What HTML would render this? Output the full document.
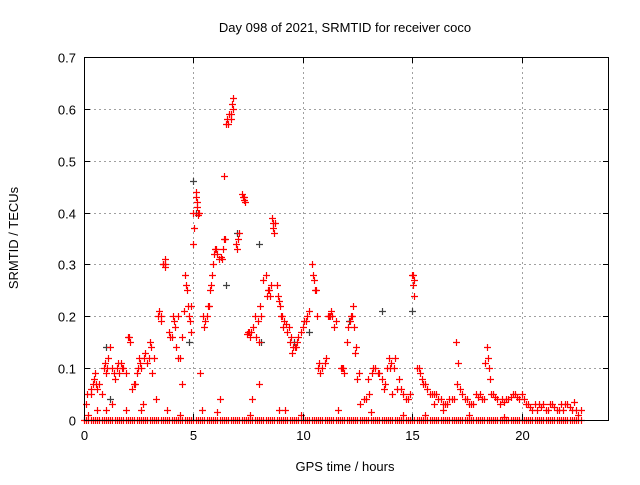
<!DOCTYPE html>
<html><head><meta charset="utf-8"><style>
body{margin:0;background:#fff;}
svg text{font-family:"Liberation Sans","DejaVu Sans",sans-serif;font-size:13px;fill:#000;}
</style></head><body>
<svg id="chart" width="640" height="480" viewBox="0 0 640 480" xmlns="http://www.w3.org/2000/svg">
<rect width="640" height="480" fill="#fff"/>
<text x="345" y="32" text-anchor="middle" font-size="14">Day 098 of 2021, SRMTID for receiver coco</text>
<text x="345" y="471" text-anchor="middle" font-size="14">GPS time / hours</text>
<text transform="translate(18,238) rotate(-90)" text-anchor="middle" font-size="14">SRMTID / TECUs</text>
<g id="grid"></g>
<g id="marks"></g>
<rect x="84.5" y="57.5" width="524" height="363" fill="none" stroke="#000" stroke-width="1"/>
<g id="ticks"></g>
</svg>
<script>
const xTicks=[0,5,10,15,20];
const yTicks=[0,0.1,0.2,0.3,0.4,0.5,0.6,0.7];
const yTickLabels=["0","0.1","0.2","0.3","0.4","0.5","0.6","0.7"];
const redTimes=[0.1,0.15,0.3,0.4,0.5,0.6,0.7,0.8,0.9,1.0,1.1,1.2,1.3,1.4,1.5,1.6,1.7,1.8,2.0,2.1,2.2,2.3,2.4,2.5,2.6,2.8,2.9,3.0,3.1,3.2,3.4,3.5,3.6,3.7,3.7,3.9,4.0,4.1,4.2,4.3,4.3,4.5,4.6,4.7,4.8,4.9,4.9,5.0,5.0,5.1,5.15,5.2,5.3,5.5,5.6,5.7,5.8,5.9,6.0,6.1,6.3,6.4,6.4,6.5,6.6,6.7,6.8,6.8,7.0,7.1,7.3,7.35,7.5,7.6,7.8,8.0,8.1,8.3,8.4,8.5,8.6,8.65,8.7,8.8,8.9,9.0,9.1,9.3,9.4,9.5,9.7,9.8,10.0,10.2,10.4,10.5,10.6,10.7,10.8,11.0,11.2,11.3,11.5,11.8,11.9,12.0,12.2,12.3,12.4,12.5,12.8,13.0,13.2,13.5,13.7,14.0,14.2,14.4,14.6,14.8,15.0,15.05,15.1,15.3,15.5,15.7,15.9,16.2,16.5,16.7,17.0,17.1,17.2,17.4,17.6,17.9,18.2,18.4,18.45,18.5,18.7,19.0,19.3,19.6,19.9,20.2,20.5,20.8,21.1,21.4,21.7,22.0,22.3,22.6,1.3,2.6,4.5,7.7,9.2,12.6,14.1,16.0,0.6,3.3,6.2,8.0];
const redValues=[0.03,0.05,0.05,0.07,0.09,0.06,0.07,0.05,0.1,0.09,0.12,0.14,0.1,0.08,0.1,0.09,0.11,0.1,0.16,0.15,0.06,0.07,0.09,0.12,0.1,0.13,0.11,0.15,0.09,0.12,0.2,0.19,0.3,0.31,0.295,0.17,0.16,0.19,0.14,0.12,0.2,0.16,0.28,0.25,0.2,0.22,0.17,0.34,0.4,0.44,0.42,0.4,0.09,0.18,0.2,0.22,0.26,0.3,0.33,0.32,0.31,0.35,0.47,0.57,0.57,0.58,0.6,0.62,0.33,0.36,0.43,0.42,0.17,0.16,0.2,0.15,0.2,0.28,0.25,0.24,0.39,0.37,0.36,0.26,0.23,0.2,0.18,0.17,0.15,0.13,0.14,0.16,0.18,0.2,0.3,0.27,0.25,0.1,0.09,0.11,0.2,0.21,0.19,0.1,0.09,0.15,0.2,0.22,0.13,0.08,0.04,0.08,0.1,0.09,0.06,0.1,0.12,0.08,0.05,0.04,0.28,0.26,0.24,0.1,0.07,0.06,0.05,0.04,0.03,0.04,0.15,0.11,0.06,0.04,0.03,0.05,0.04,0.14,0.12,0.1,0.05,0.03,0.04,0.05,0.04,0.03,0.02,0.03,0.02,0.03,0.02,0.03,0.02,0.01,0.03,0.02,0.07,0.04,0.02,0.03,0.05,0.03,0.02,0.04,0.04,0.07];
const clusterTimes=[0.3,0.45,0.55,0.95,1.05,1.35,1.55,1.75,1.9,2.05,2.35,2.45,2.55,2.75,2.95,3.05,3.45,3.5,3.62,3.68,3.95,4.05,4.15,4.4,4.55,4.65,4.75,4.85,5.02,5.1,5.18,5.22,5.25,5.45,5.55,5.65,5.75,5.85,5.95,6.05,6.15,6.25,6.35,6.45,6.55,6.62,6.72,6.78,6.95,7.05,7.22,7.28,7.32,7.45,7.55,7.65,7.72,7.85,7.95,8.05,8.2,8.35,8.45,8.55,8.62,8.75,8.85,8.95,9.05,9.15,9.25,9.35,9.45,9.55,9.65,9.75,9.9,10.05,10.15,10.3,10.45,10.55,10.65,10.75,10.9,11.05,11.15,11.25,11.35,11.45,11.75,11.85,12.05,12.15,12.25,12.35,12.45,12.55,12.9,13.05,13.15,13.3,13.45,13.6,13.75,13.85,13.95,14.05,14.15,14.3,14.5,14.7,14.9,15.02,15.08,15.2,15.35,15.45,15.6,15.8,16.0,16.1,16.3,16.4,16.6,16.8,16.9,17.05,17.3,17.5,17.7,17.8,18.0,18.1,18.3,18.35,18.55,18.6,18.8,18.9,19.1,19.2,19.4,19.5,19.7,19.8,20.0,20.1,20.3,20.4,20.6,20.7,20.9,21.0,21.2,21.3,21.5,21.6,21.8,21.9,22.1,22.2,22.4,22.5,22.7,0.2,1.0,1.9,2.7,3.8,4.4,5.4,6.1,7.6,8.9,9.9,11.6,13.1,14.6,15.6,16.4,17.6,19.2,20.7,22.0];
const clusterValues=[0.06,0.08,0.07,0.11,0.1,0.09,0.11,0.1,0.09,0.16,0.07,0.1,0.11,0.12,0.12,0.14,0.21,0.2,0.3,0.3,0.16,0.2,0.18,0.12,0.21,0.26,0.22,0.19,0.37,0.43,0.41,0.395,0.4,0.2,0.19,0.22,0.25,0.28,0.32,0.33,0.31,0.315,0.33,0.35,0.58,0.59,0.59,0.61,0.34,0.35,0.435,0.43,0.425,0.165,0.17,0.17,0.18,0.16,0.19,0.22,0.27,0.24,0.25,0.26,0.38,0.38,0.24,0.22,0.2,0.19,0.185,0.18,0.16,0.14,0.14,0.15,0.17,0.19,0.19,0.21,0.28,0.25,0.2,0.11,0.1,0.12,0.2,0.2,0.2,0.18,0.1,0.1,0.18,0.19,0.2,0.18,0.14,0.09,0.04,0.05,0.09,0.1,0.09,0.08,0.07,0.1,0.12,0.11,0.1,0.06,0.06,0.04,0.05,0.28,0.27,0.1,0.09,0.08,0.07,0.05,0.05,0.05,0.04,0.03,0.03,0.04,0.04,0.07,0.05,0.04,0.03,0.03,0.045,0.05,0.04,0.11,0.08,0.05,0.045,0.04,0.04,0.035,0.04,0.045,0.05,0.045,0.05,0.04,0.03,0.025,0.03,0.02,0.025,0.03,0.02,0.03,0.025,0.02,0.03,0.02,0.03,0.025,0.035,0.02,0.02,0.01,0.02,0.02,0.03,0.02,0.01,0.02,0.015,0.01,0.02,0.01,0.02,0.015,0.01,0.01,0.02,0.01,0.005];
const zeroTimes=[0,0.1,0.2,0.3,0.4,0.5,0.6,0.7,0.8,0.9,1,1.1,1.2,1.3,1.4,1.5,1.6,1.7,1.8,1.9,2,2.1,2.2,2.3,2.4,2.5,2.6,2.7,2.8,2.9,3,3.1,3.2,3.3,3.4,3.5,3.6,3.7,3.8,3.9,4,4.1,4.2,4.3,4.4,4.5,4.6,4.7,4.8,4.9,5,5.1,5.2,5.3,5.4,5.5,5.6,5.7,5.8,5.9,6,6.1,6.2,6.3,6.4,6.5,6.6,6.7,6.8,6.9,7,7.1,7.2,7.3,7.4,7.5,7.6,7.7,7.8,7.9,8,8.1,8.2,8.3,8.4,8.5,8.6,8.7,8.8,8.9,9,9.1,9.2,9.3,9.4,9.5,9.6,9.7,9.8,9.9,10,10.1,10.2,10.3,10.4,10.5,10.6,10.7,10.8,10.9,11,11.1,11.2,11.3,11.4,11.5,11.6,11.7,11.8,11.9,12,12.1,12.2,12.3,12.4,12.5,12.6,12.7,12.8,12.9,13,13.1,13.2,13.3,13.4,13.5,13.6,13.7,13.8,13.9,14,14.1,14.2,14.3,14.4,14.5,14.6,14.7,14.8,14.9,15,15.1,15.2,15.3,15.4,15.5,15.6,15.7,15.8,15.9,16,16.1,16.2,16.3,16.4,16.5,16.6,16.7,16.8,16.9,17,17.1,17.2,17.3,17.4,17.5,17.6,17.7,17.8,17.9,18,18.1,18.2,18.3,18.4,18.5,18.6,18.7,18.8,18.9,19,19.1,19.2,19.3,19.4,19.5,19.6,19.7,19.8,19.9,20,20.1,20.2,20.3,20.4,20.5,20.6,20.7,20.8,20.9,21,21.1,21.2,21.3,21.4,21.5,21.6,21.7,21.8,21.9,22,22.1,22.2,22.3,22.4,22.5,22.6,22.7];
const grayTimes=[1.0,5.0,5.1,6.5,7.0,8.0,13.6,15.0,4.8,9.6,1.2,8.1,10.3,12.1];
const grayValues=[0.14,0.46,0.4,0.26,0.36,0.34,0.21,0.21,0.15,0.15,0.04,0.15,0.17,0.19];

const L=84,R=609,T=57,B=420,XMAX=24,YMAX=0.7;
const xs=t=>L+(R-L)*t/XMAX;
const ys=v=>B-(B-T)*v/YMAX;
const NS="http://www.w3.org/2000/svg";
const grid=document.getElementById('grid'),ticks=document.getElementById('ticks'),marks=document.getElementById('marks');
function mk(tag,attrs,parent){const e=document.createElementNS(NS,tag);for(const k in attrs)e.setAttribute(k,attrs[k]);parent.appendChild(e);return e;}
xTicks.forEach(t=>{
  const x=Math.round(xs(t))+0.5;
  if(t>0){const g=mk('line',{x1:x,y1:T,x2:x,y2:B,stroke:'#a0a0a0','stroke-dasharray':'2,3'},grid);
  
  }
  const a=mk('line',{x1:x,y1:B,x2:x,y2:B-6,stroke:'#000'},ticks);
  
  
  const b=mk('line',{x1:x,y1:T,x2:x,y2:T+6,stroke:'#000'},ticks);
  
  
  const lb=mk('text',{x:x,y:B+20,'text-anchor':'middle'},ticks);lb.textContent=String(t);
  
  
});
yTicks.forEach((v,i)=>{
  const y=Math.round(ys(v))+0.5;
  if(v>0&&v<YMAX){const g=mk('line',{x1:L,y1:y,x2:R,y2:y,stroke:'#a0a0a0','stroke-dasharray':'2,3'},grid);
  
  }
  const a=mk('line',{x1:L,y1:y,x2:L+6,y2:y,stroke:'#000'},ticks);
  
  
  const b=mk('line',{x1:R,y1:y,x2:R-6,y2:y,stroke:'#000'},ticks);
  
  
  const lb=mk('text',{x:L-8,y:y+5,'text-anchor':'end'},ticks);lb.textContent=yTickLabels[i];
  
  
});
function plus(t,v,color,name){
  const x=Math.round(xs(t))+0.5,y=Math.round(ys(v))+0.5,s=3.5;
  const p=mk('path',{d:`M${x-s},${y}H${x+s}M${x},${y-s}V${y+s}`,stroke:color,'stroke-width':1.2,fill:'none'},marks);
  
  
}
zeroTimes.forEach(t=>plus(t,0,'#ff0000','zero-point'));
grayTimes.forEach((t,i)=>plus(t,grayValues[i],'#404040','gray-point'));
redTimes.forEach((t,i)=>plus(t,redValues[i],'#ff0000','red-point'));
clusterTimes.forEach((t,i)=>plus(t,clusterValues[i],'#ff0000','red-point'));
</script>
</body></html>
